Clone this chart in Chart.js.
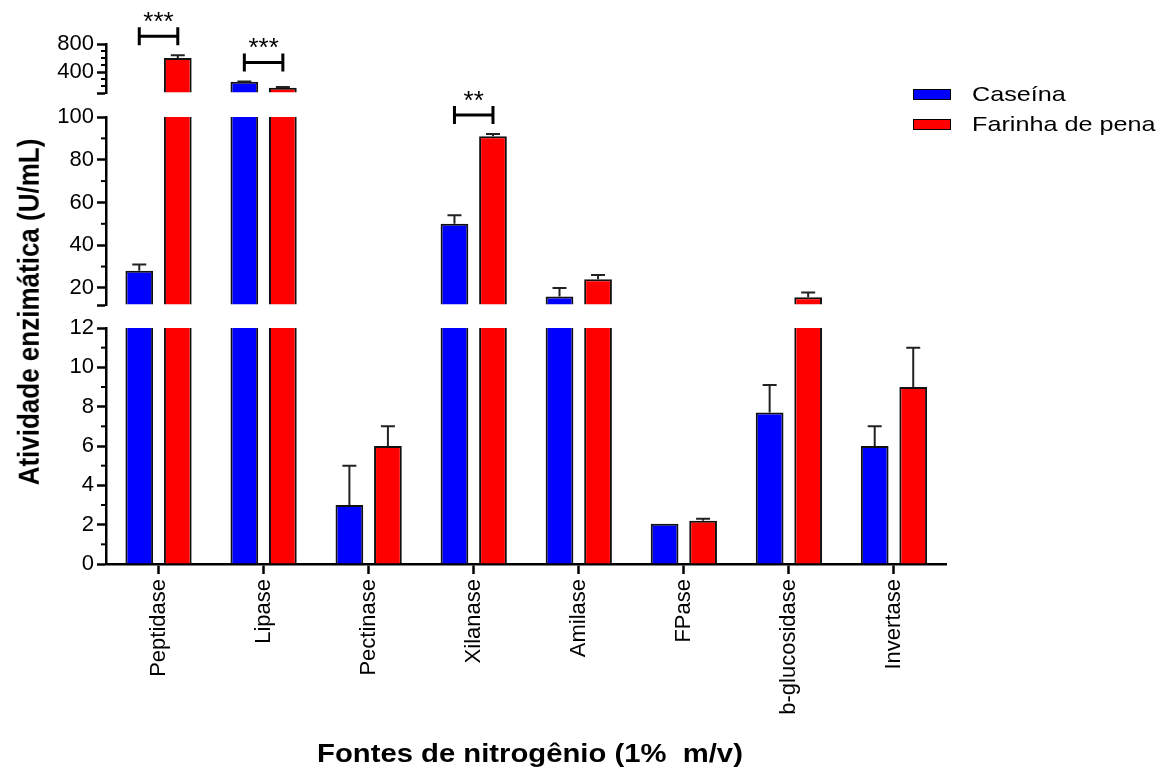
<!DOCTYPE html>
<html>
<head>
<meta charset="utf-8">
<script src="https://cdn.jsdelivr.net/npm/chart.js@4.4.0/dist/chart.umd.min.js"></script>
<style>
html,body{margin:0;padding:0;background:#fff;}
#wrap{position:relative;width:1160px;height:767px;overflow:hidden;font-family:"Liberation Sans",Arial,sans-serif;color:#000;}
#c{position:absolute;left:0;top:0;}
.ytitle{position:absolute;left:-172px;top:297px;width:400px;height:30px;line-height:30px;text-align:center;font-weight:bold;font-size:26px;transform:scaleX(1.15) rotate(-90deg);white-space:nowrap;}
.xtitle{position:absolute;left:130px;top:738px;width:800px;line-height:30px;text-align:center;font-weight:bold;font-size:25px;transform:scaleX(1.17);white-space:pre;}
.lbox{position:absolute;left:913px;width:38px;height:11px;box-sizing:border-box;border:1.5px solid #000;}
.ltext{position:absolute;left:972px;font-size:21px;line-height:24px;transform:scaleX(1.2);transform-origin:left center;white-space:nowrap;}
</style>
</head>
<body>
<div id="wrap">
  <canvas id="c" width="1160" height="767"></canvas>
  <div class="ytitle">Atividade enzimática (U/mL)</div>
  <div class="xtitle">Fontes de nitrogênio (1%  m/v)</div>
  <div class="lbox" style="top:89px;background:#0000ff"></div>
  <div class="ltext" style="top:82px">Caseína</div>
  <div class="lbox" style="top:119px;background:#ff0000"></div>
  <div class="ltext" style="top:112px">Farinha de pena</div>
</div>
<script>
// ---------- data ----------
const categories = ['Peptidase','Lipase','Pectinase','Xilanase','Amilase','FPase','b-glucosidase','Invertase'];
const seriesNames = ['Caseína','Farinha de pena'];
const caseinaValues = [28, 260, 3, 50, 16, 2.05, 7.7, 6];
const caseinaErrors = [3, 5, 2, 4, 4, 0, 1.4, 1];
const farinhaValues = [600, 175, 6, 91, 24, 2.2, 15.6, 9];
const farinhaErrors = [40, 10, 1, 1, 2, 0.1, 2.2, 2];

// axis break ranges (top, middle, bottom)
const segmentRanges = [[100, 800], [12, 100], [0, 12]];
const topTicks = [400, 800];
const topMinorTicks = [200, 300, 500, 600, 700];
const midTicks = [20, 40, 60, 80, 100];
const midMinorTicks = [30, 50, 70, 90];
const botTicks = [0, 2, 4, 6, 8, 10, 12];
const botMinorTicks = [1, 3, 5, 7, 9, 11];

const sigCategories = ['Peptidase', 'Lipase', 'Xilanase'];
const sigMarks = ['***', '***', '**'];

// ---------- styling / layout ----------
const seriesColors = ['#0000ff', '#ff0000'];
const seriesStacks = ['c', 'f'];
const allValues = [caseinaValues, farinhaValues];
const allErrors = [caseinaErrors, farinhaErrors];
const segIds = ['yTop', 'yMid', 'yBot'];
const segMajor = [topTicks, midTicks, botTicks];
const segMinor = [topMinorTicks, midMinorTicks, botMinorTicks];
const segHeights = [49, 188, 236];
const gapHeights = [24, 23];
const BW = 2;
const FONT = '"Liberation Sans", Arial, sans-serif';

Chart.defaults.font.family = FONT;
Chart.defaults.color = '#000';

function segData(values, lo, hi) {
  return values.map(v => (v > lo ? Math.min(v, hi) : null));
}

const datasets = [];
segmentRanges.forEach(([lo, hi], s) => {
  allValues.forEach((vals, sr) => {
    datasets.push({
      label: seriesNames[sr],
      data: segData(vals, lo, hi),
      yAxisID: segIds[s],
      stack: seriesStacks[sr],
      base: lo,
      backgroundColor: seriesColors[sr],
      borderColor: '#111',
      borderSkipped: false,
      borderWidth: ctx => ({
        top: vals[ctx.dataIndex] > hi ? 0 : BW,
        left: BW, right: BW, bottom: 0
      }),
      barPercentage: 0.72,
      categoryPercentage: 0.7333
    });
  });
});

function segScale(s) {
  const [lo, hi] = segmentRanges[s];
  return {
    type: 'linear', position: 'left', stack: 'v', stackWeight: segHeights[s], weight: 10 - 2 * s,
    min: lo, max: hi, stacked: false,
    afterFit: sc => { sc.width = 106; },
    afterBuildTicks: sc => {
      const vals = Array.from(new Set([lo, ...segMajor[s], hi])).sort((a, b) => a - b);
      sc.ticks = vals.map(v => ({ value: v }));
    },
    grid: { display: true, drawOnChartArea: false, drawTicks: true, tickLength: 9, tickWidth: 2.5, tickColor: '#000' },
    border: { display: true, color: '#000', width: 2.5 },
    ticks: { autoSkip: false, padding: 3, color: '#000', font: { size: 22 },
      callback: v => (segMajor[s].includes(v) ? String(v) : '') }
  };
}
function gapScale(g) {
  return {
    type: 'linear', position: 'left', stack: 'v', stackWeight: gapHeights[g], weight: 9 - 2 * g,
    display: true, grid: { display: false }, border: { display: false }, ticks: { display: false }
  };
}

function segOf(v) {
  for (let s = 0; s < segmentRanges.length; s++) {
    const [lo, hi] = segmentRanges[s];
    if (v > lo && v <= hi) return s;
  }
  return segmentRanges.length - 1;
}
function barX(chart, sr, i) {
  return chart.getDatasetMeta((segmentRanges.length - 1) * 2 + sr).data[i].x;
}

const overlay = {
  id: 'overlay',
  afterDatasetsDraw(chart) {
    const ctx = chart.ctx;
    ctx.save();
    // minor ticks
    ctx.strokeStyle = '#000';
    ctx.lineWidth = 2;
    segIds.forEach((id, s) => {
      const sc = chart.scales[id];
      segMinor[s].forEach(v => {
        const y = sc.getPixelForValue(v);
        ctx.beginPath();
        ctx.moveTo(sc.right - 5, y);
        ctx.lineTo(sc.right, y);
        ctx.stroke();
      });
    });
    // error bars
    ctx.strokeStyle = '#222';
    ctx.lineWidth = 2;
    allValues.forEach((vals, sr) => {
      vals.forEach((v, i) => {
        const e = allErrors[sr][i];
        if (!e) return;
        const sc = chart.scales[segIds[segOf(v)]];
        const x = barX(chart, sr, i);
        const y0 = sc.getPixelForValue(v);
        const y1 = sc.getPixelForValue(v + e);
        ctx.beginPath();
        ctx.moveTo(x, y0);
        ctx.lineTo(x, y1);
        ctx.moveTo(x - 7, y1);
        ctx.lineTo(x + 7, y1);
        ctx.stroke();
      });
    });
    // significance brackets
    ctx.strokeStyle = '#000';
    ctx.fillStyle = '#000';
    ctx.lineWidth = 3;
    sigCategories.forEach((cat, k) => {
      const i = categories.indexOf(cat);
      const x1 = barX(chart, 0, i), x2 = barX(chart, 1, i);
      const tops = [0, 1].map(sr => {
        const v = allValues[sr][i], e = allErrors[sr][i];
        return chart.scales[segIds[segOf(v)]].getPixelForValue(v + e);
      });
      const y = Math.min(...tops) - 19;
      ctx.beginPath();
      ctx.moveTo(x1, y - 9); ctx.lineTo(x1, y + 9);
      ctx.moveTo(x1, y); ctx.lineTo(x2, y);
      ctx.moveTo(x2, y - 9); ctx.lineTo(x2, y + 9);
      ctx.stroke();
      ctx.font = '26px ' + FONT;
      ctx.textAlign = 'center';
      ctx.textBaseline = 'alphabetic';
      ctx.fillText(sigMarks[k], (x1 + x2) / 2, y - 6);
    });
    ctx.restore();
  }
};

new Chart(document.getElementById('c'), {
  type: 'bar',
  data: { labels: categories, datasets },
  options: {
    responsive: false,
    devicePixelRatio: 1,
    animation: false,
    layout: { padding: { left: 0, top: 44, right: 213.5, bottom: 0 } },
    plugins: { legend: { display: false }, tooltip: { enabled: false } },
    scales: {
      x: {
        type: 'category', stacked: true, offset: true,
        afterFit: sc => { sc.height = 203; },
        grid: { display: true, drawOnChartArea: false, offset: false, tickLength: 10, tickWidth: 2.5, tickColor: '#000' },
        border: { display: true, color: '#000', width: 2.5 },
        ticks: { autoSkip: false, maxRotation: 90, minRotation: 90, padding: 5, color: '#000', font: { size: 22 } }
      },
      yTop: segScale(0),
      gap1: gapScale(0),
      yMid: segScale(1),
      gap2: gapScale(1),
      yBot: segScale(2)
    }
  },
  plugins: [overlay]
});
</script>
</body>
</html>
